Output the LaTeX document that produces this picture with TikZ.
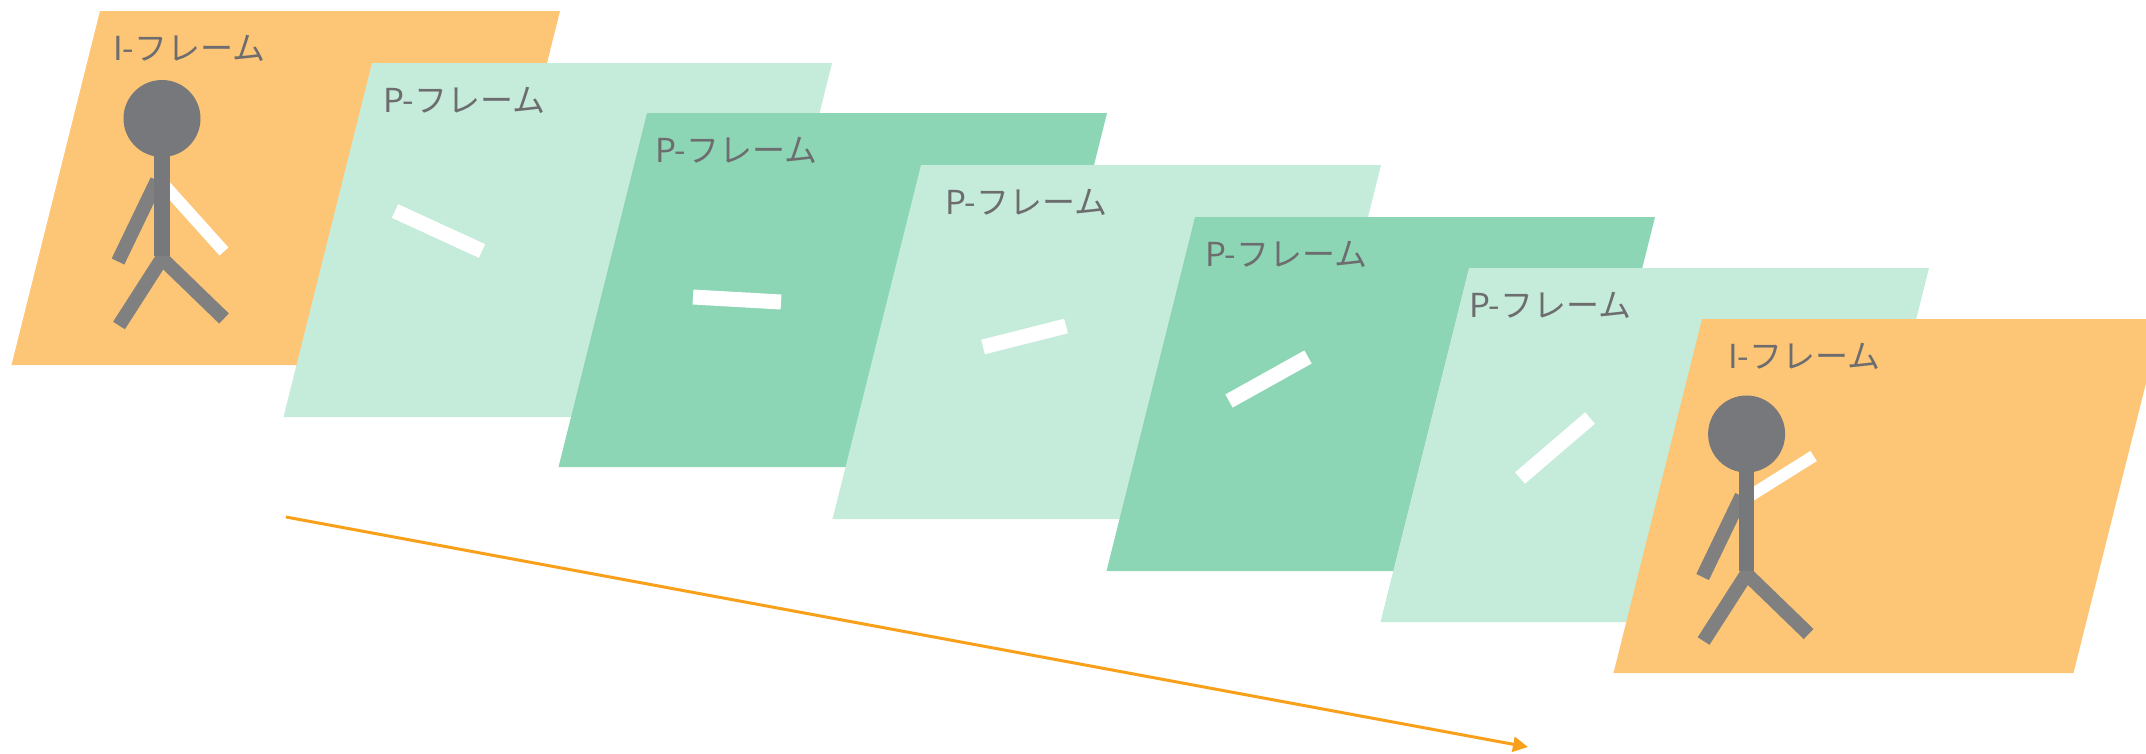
\documentclass[tikz,border=0pt]{standalone}
\usepackage{fontspec}
\newfontfamily\jpfont{Noto Sans CJK JP}
\usetikzlibrary{arrows.meta}
\definecolor{iframe}{HTML}{FDC576}
\definecolor{plight}{HTML}{C5ECDB}
\definecolor{pdark}{HTML}{8CD6B5}
\definecolor{headgray}{HTML}{76787B}
\definecolor{limbgray}{HTML}{808080}
\definecolor{labelgray}{HTML}{6D6D6F}
\definecolor{timeorange}{HTML}{F9A01B}
\tikzset{
  % a slanted video frame, top-left corner at the pic origin
  vframe/.pic={\fill[#1] (0,0) -- (460,0) -- (371.5,354) -- (-88.5,354) -- cycle;},
  flabel/.style={font=\jpfont\fontsize{33}{40}\selectfont, text=labelgray,
    inner sep=0pt, anchor=base west},
  motionbar/.style={draw=white, line width=15pt, line cap=butt},
  limb/.style={draw=limbgray, line width=14pt, line cap=butt},
  torso/.style={draw=headgray, line width=15.5pt, line cap=butt},
  % stick figure, origin at the centre of the head; #1 = end of the raised arm
  walker/.pic={
    \draw[draw=white, line width=12pt, line cap=butt] (0,64) -- (#1);
    \draw[limb] (-5,62) -- (-44,143);
    \draw[limb, line join=miter] (-43,207) -- (0,140) -- (62,200);
    \draw[torso] (0,35) -- (0,137);
    \fill[headgray] (0,0) circle (38.5);
  },
  timeline/.style={draw=timeorange, line width=3pt,
    -{Triangle[length=15pt,width=15pt]}},
}
\begin{document}
\begin{tikzpicture}[x=1pt,y=-1pt]
\useasboundingbox (0,0) rectangle (2146,753);
\clip (0,0) rectangle (2146,753);

% frame 1: I-frame
\pic at (100,11) {vframe=iframe};
\node[flabel] (lab1) at (113,60) {I-フレーム};
\pic at (162,118.5) {walker={62,133}};

% frame 2
\pic at (372,63) {vframe=plight};
\node[flabel] (lab2) at (383,112) {P-フレーム};
\draw[motionbar] (395,211) -- (482,251);

% frame 3
\pic at (647,113) {vframe=pdark};
\node[flabel] (lab3) at (655,162) {P-フレーム};
\draw[motionbar] (693,297) -- (781,302);

% frame 4
\pic at (921,165) {vframe=plight};
\node[flabel] (lab4) at (945,214) {P-フレーム};
\draw[motionbar] (983,347) -- (1066,326);

% frame 5
\pic at (1195,217) {vframe=pdark};
\node[flabel] (lab5) at (1205,266) {P-フレーム};
\draw[motionbar] (1229,401) -- (1308,357);

% frame 6
\pic at (1469,268) {vframe=plight};
\node[flabel] (lab6) at (1469,317) {P-フレーム};
\draw[motionbar] (1520,478) -- (1590,418);

% frame 7: I-frame
\pic at (1702,319) {vframe=iframe};
\node[flabel] (lab7) at (1728,368) {I-フレーム};
\pic at (1746.6,434) {walker={67,22}};

% time axis
\coordinate (tstart) at (286,517);
\coordinate (tend) at (1528,747);
\draw[timeline] (tstart) -- (tend);
\end{tikzpicture}
\end{document}
